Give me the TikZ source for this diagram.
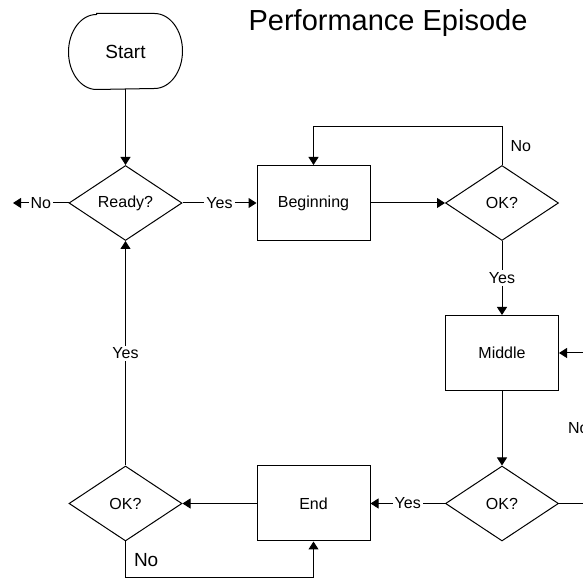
\documentclass[tikz,border=0pt]{standalone}
\usepackage{fontspec}
\setmainfont{Liberation Sans}
\usetikzlibrary{positioning,arrows.meta,shapes.geometric}

\tikzset{
  box/.style={draw,line width=0.5pt,minimum width=56.5pt,minimum height=37.5pt,inner sep=0pt,font=\fontsize{8}{9.6}\selectfont},
  test/.style={box,diamond},
  flow/.style={line width=0.5pt,-{Triangle[length=4pt,width=5pt]}},
  lbl/.style={font=\fontsize{8}{9.6}\selectfont,fill=white,inner sep=1pt},
  side/.style={font=\fontsize{8}{9.6}\selectfont,inner sep=2pt}
}

\begin{document}
\begin{tikzpicture}[x=0.5pt,y=-0.5pt]
  \clip (0,0) rectangle (583,581);
  \node[font=\fontsize{14.5}{17}\selectfont] (title) at (388,23) {Performance Episode};
  \node[box,draw=none,font=\fontsize{9.5}{11}\selectfont] (start) at (125.5,51.5) {Start};
  \draw[line width=0.5pt] ([xshift=14pt]start.north west) -- ([xshift=-14pt]start.north east)
    arc[start angle=90,end angle=-90,x radius=14pt,y radius=18.75pt]
    -- ([xshift=14pt]start.south west)
    arc[start angle=270,end angle=90,x radius=14pt,y radius=18.75pt] -- cycle;
  % top row
  \node[test] (ready) at (125.5,203) {Ready?};
  \node[box] (beginning) at (313.5,203) {Beginning};
  \node[test] (okA) at (502,203) {OK?};
  % right column
  \node[box] (middle) at (502,353) {Middle};
  % bottom row
  \node[test] (okB) at (502,503.5) {OK?};
  \node[box] (ending) at (313.5,503.5) {End};
  \node[test] (okC) at (125.5,503.5) {OK?};
  \coordinate (noexit) at (13,203);
  \coordinate (loopA) at (313.5,127);
  \coordinate (loopB) at (597,503.5);
  \coordinate (loopC) at (313.5,578);

  \draw[flow] (start) -- (ready);
  \draw[flow] (ready) -- node[lbl]{Yes} (beginning);
  \draw[flow] (ready.west) -- node[lbl]{No} (noexit);
  \draw[flow] (beginning) -- (okA);
  \draw[flow] (okA.north) |- node[side,pos=0.25,right=2pt]{No} (loopA) -- (beginning.north);
  \draw[flow] (okA) -- node[lbl]{Yes} (middle);
  \draw[flow] (middle) -- (okB);
  \draw[flow] (okB.east) -- (loopB) |- node[side,pos=0.25,left=2pt]{No} (middle.east);
  \draw[flow] (okB) -- node[lbl]{Yes} (ending);
  \draw[flow] (ending) -- (okC);
  \draw[flow] (okC.south) |- node[side,pos=0.25,right=2pt,font=\fontsize{9.5}{11}\selectfont]{No} (loopC) -- (ending.south);
  \draw[flow] (okC) -- node[lbl]{Yes} (ready);
\end{tikzpicture}
\end{document}
